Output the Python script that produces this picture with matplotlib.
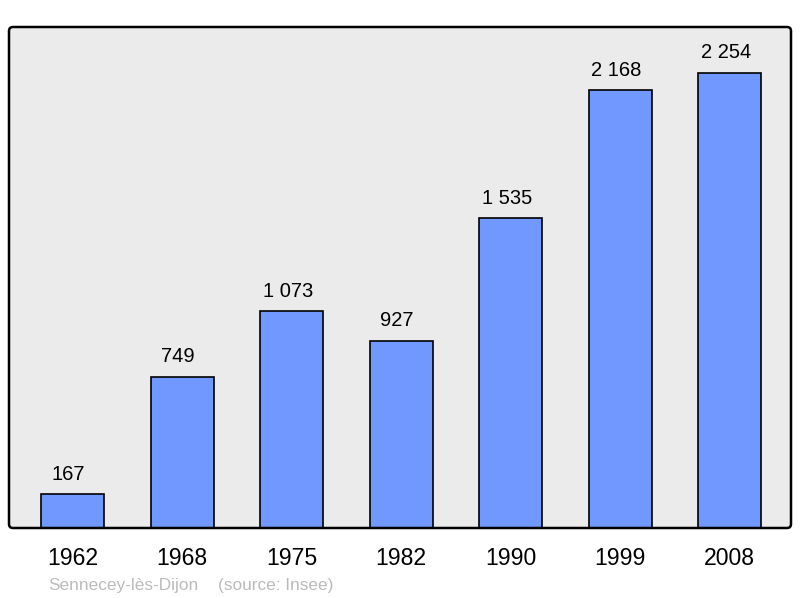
import matplotlib
matplotlib.use("Agg")
import matplotlib.pyplot as plt
from matplotlib.patches import FancyBboxPatch

years = ["1962", "1968", "1975", "1982", "1990", "1999", "2008"]
population = [167, 749, 1073, 927, 1535, 2168, 2254]
commune = "Sennecey-lès-Dijon"
source = "(source: Insee)"

plt.rcParams["font.family"] = ["Liberation Sans", "DejaVu Sans"]

fig = plt.figure(figsize=(8, 5.98), dpi=100)
ax = fig.add_axes([9 / 800, 70 / 598, 782 / 800, 501 / 598])
ax.set_facecolor("#ebebeb")

xs = range(len(years))
ax.bar(xs, population, width=0.575, color="#7098ff", edgecolor="black",
       linewidth=1.2, zorder=2)

# value labels sit a little left of the bar centre in the original
for x, v in zip(xs, population):
    label = f"{v:,}".replace(",", " ")
    ax.annotate(label, (x, v), xytext=(-2.8, 10.5), textcoords="offset points",
                ha="center", va="baseline", fontsize=14.5)

ax.set_xlim(-0.58, 6.56)
ax.set_ylim(0, 2482)
ax.set_yticks([])
ax.set_xticks(list(xs))
ax.set_xticklabels(years, fontsize=16.6)
ax.tick_params(axis="x", length=0, pad=14)

# frame with slightly rounded corners, like the original svg
for s in ax.spines.values():
    s.set_visible(False)
frame = FancyBboxPatch((0.09, 0.70), 7.82, 5.01,
                       boxstyle="round,pad=0,rounding_size=0.04",
                       transform=fig.dpi_scale_trans, facecolor="none",
                       edgecolor="black", linewidth=1.8, zorder=5)
fig.add_artist(frame)

fig.text(48 / 800, 1 - 590 / 598, commune, color="#bbbbbb", fontsize=12.4,
         va="baseline", ha="left")
fig.text(218 / 800, 1 - 590 / 598, source, color="#bbbbbb", fontsize=12.4,
         va="baseline", ha="left")

fig.savefig("out.png", dpi=100)
